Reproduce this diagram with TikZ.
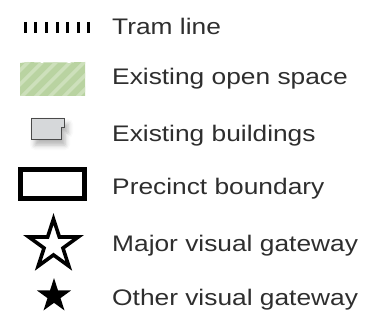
\documentclass[tikz,border=0pt]{standalone}
\usepackage{fontspec}
\setmainfont{Liberation Sans}[FakeStretch=1.17]
\usetikzlibrary{calc,shadows.blur}
\definecolor{txt}{HTML}{2E2E2E}
\definecolor{grbase}{HTML}{B9D3A1}
\definecolor{grlight}{HTML}{CDE0BB}
\definecolor{bldfill}{HTML}{D6D8DA}
\definecolor{bldline}{HTML}{4A4A4A}
\begin{document}
\begin{tikzpicture}[x=1pt,y=-1pt,
  lbl/.style={anchor=base west,inner sep=0pt,text=txt,font=\fontsize{22.5}{26}\selectfont},
  tick/.style={line width=3pt,black},
]
\useasboundingbox (0,0) rectangle (366,320);
% tram line
\foreach \i in {0,...,6} {
  \draw[tick] ({25.3+10.57*\i},22) -- ({25.3+10.57*\i},33);
}
\node[lbl] (t1) at (112,35) {Tram line};
% open space
\begin{scope}
  \clip (20,63) -- (28,62) -- (40,62.5) -- (42,63.5) -- (44,62.5) -- (66,62.3) -- (69,63.5) -- (72,62.3) -- (85,62) -- (85,96) -- (20,96) -- cycle;
  \fill[grbase] (18,60) rectangle (88,98);
  \foreach \k in {-6,...,8} {
    \fill[grlight] ({20+14*\k},96) -- ({25+14*\k},96) -- ({25+14*\k+36},60) -- ({20+14*\k+36},60) -- cycle;
  }
\end{scope}
\node[lbl] (t2) at (112,85) {Existing open space};
% buildings
\path[fill=bldfill,draw=bldline,line width=0.9pt,
  blur shadow={shadow xshift=4pt,shadow yshift=-6pt,shadow blur radius=5pt,shadow opacity=30}]
  (31,118) -- (64,118) -- (64,127) -- (61,127) -- (61,139) -- (31,139) -- cycle;
\node[lbl] (t3) at (112,142) {Existing buildings};
% precinct boundary
\draw[line width=5pt,black] (20.5,169.5) rectangle (84.5,198.5);
\node[lbl] (t4) at (112,195) {Precinct boundary};
% major gateway star
\draw[line width=3.6pt,line join=miter,black]
  (53.5,245) ++(-90:26)
  \foreach \a in {0,1,2,3,4} {
    -- ($(53.5,245)+({-90+72*\a+36}:9.93)$)
    -- ($(53.5,245)+({-90+72*\a+72}:26)$)
  } -- cycle;
\node[lbl] (t5) at (112,251) {Major visual gateway};
% other gateway star
\fill[black]
  (54,296) ++(-90:17.9)
  \foreach \a in {0,1,2,3,4} {
    -- ($(54,296)+({-90+72*\a+36}:6.84)$)
    -- ($(54,296)+({-90+72*\a+72}:17.9)$)
  } -- cycle;
\node[lbl] (t6) at (112,305) {Other visual gateway};
\end{tikzpicture}
\end{document}
